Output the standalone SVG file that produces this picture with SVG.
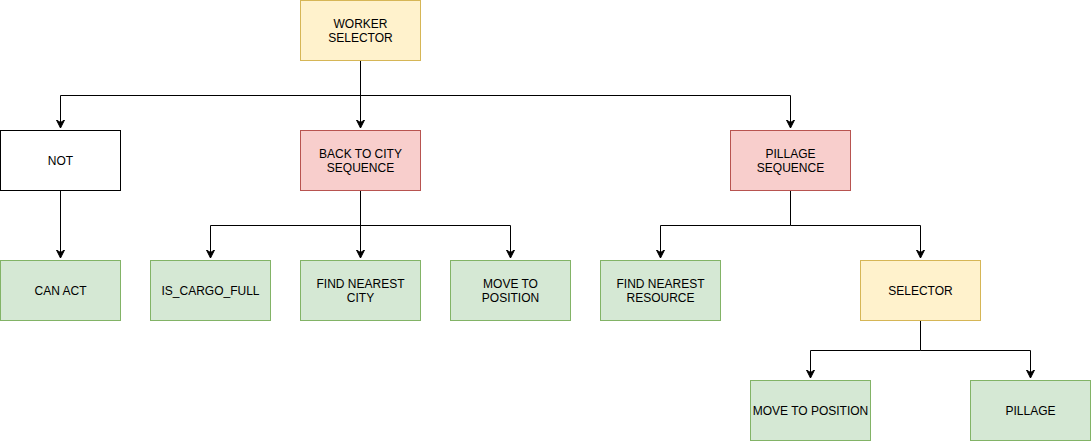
<svg xmlns="http://www.w3.org/2000/svg" width="1091" height="441" viewBox="0 0 1091 441">
<style>
text{font-family:"Liberation Sans",Arial,Helvetica,sans-serif;font-size:12px;fill:#000;text-anchor:middle;dominant-baseline:central}
.y{fill:#fff2cc;stroke:#d6b656}
.r{fill:#f8cecc;stroke:#b85450}
.g{fill:#d5e8d4;stroke:#82b366}
.w{fill:#fff;stroke:#000}
.e{fill:none;stroke:#000;stroke-width:1}
</style>
<defs>
<marker id="a" markerUnits="userSpaceOnUse" markerWidth="10" markerHeight="10" viewBox="0 0 10 10" refX="8" refY="5" orient="auto">
<path d="M0,1 L8,5 L0,9 L2.5,5 Z" fill="#000" stroke="#000" stroke-width="1"/>
</marker>
</defs>
<rect width="1091" height="441" fill="#fff"/>
<g id="connectors">
<path class="e" d="M360.5,60.5 V128" marker-end="url(#a)"/>
<path class="e" d="M360.5,95.5 H60.5 V128" marker-end="url(#a)"/>
<path class="e" d="M360.5,95.5 H790.5 V128" marker-end="url(#a)"/>
<path class="e" d="M60.5,190.5 V258" marker-end="url(#a)"/>
<path class="e" d="M360.5,190.5 V258" marker-end="url(#a)"/>
<path class="e" d="M360.5,225.5 H210.5 V258" marker-end="url(#a)"/>
<path class="e" d="M360.5,225.5 H510.5 V258" marker-end="url(#a)"/>
<path class="e" d="M790.5,190.5 V225.5 H660.5 V258" marker-end="url(#a)"/>
<path class="e" d="M790.5,225.5 H920.5 V258" marker-end="url(#a)"/>
<path class="e" d="M920.5,320.5 V350.5 H810.5 V378" marker-end="url(#a)"/>
<path class="e" d="M920.5,350.5 H1030.5 V378" marker-end="url(#a)"/>
</g>
<g id="worker-selector"><rect class="y" x="300.5" y="0.5" width="120" height="60"/><text x="360.5" y="23.5">WORKER</text><text x="360.5" y="37.5">SELECTOR</text></g>
<g id="not"><rect class="w" x="0.5" y="130.5" width="120" height="60"/><text x="60.5" y="160.5">NOT</text></g>
<g id="back-to-city"><rect class="r" x="300.5" y="130.5" width="120" height="60"/><text x="360.5" y="153.5">BACK TO CITY</text><text x="360.5" y="167.5">SEQUENCE</text></g>
<g id="pillage-sequence"><rect class="r" x="730.5" y="130.5" width="120" height="60"/><text x="790.5" y="153.5">PILLAGE</text><text x="790.5" y="167.5">SEQUENCE</text></g>
<g id="can-act"><rect class="g" x="0.5" y="260.5" width="120" height="60"/><text x="60.5" y="290.5">CAN ACT</text></g>
<g id="is-cargo-full"><rect class="g" x="150.5" y="260.5" width="120" height="60"/><text x="210.5" y="290.5">IS_CARGO_FULL</text></g>
<g id="find-nearest-city"><rect class="g" x="300.5" y="260.5" width="120" height="60"/><text x="360.5" y="283.5">FIND NEAREST</text><text x="360.5" y="297.5">CITY</text></g>
<g id="move-to-position-1"><rect class="g" x="450.5" y="260.5" width="120" height="60"/><text x="510.5" y="283.5">MOVE TO</text><text x="510.5" y="297.5">POSITION</text></g>
<g id="find-nearest-resource"><rect class="g" x="600.5" y="260.5" width="120" height="60"/><text x="660.5" y="283.5">FIND NEAREST</text><text x="660.5" y="297.5">RESOURCE</text></g>
<g id="selector"><rect class="y" x="860.5" y="260.5" width="120" height="60"/><text x="920.5" y="290.5">SELECTOR</text></g>
<g id="move-to-position-2"><rect class="g" x="750.5" y="380.5" width="120" height="60"/><text x="810.5" y="410.5">MOVE TO POSITION</text></g>
<g id="pillage"><rect class="g" x="970.5" y="380.5" width="120" height="60"/><text x="1030.5" y="410.5">PILLAGE</text></g>
</svg>
